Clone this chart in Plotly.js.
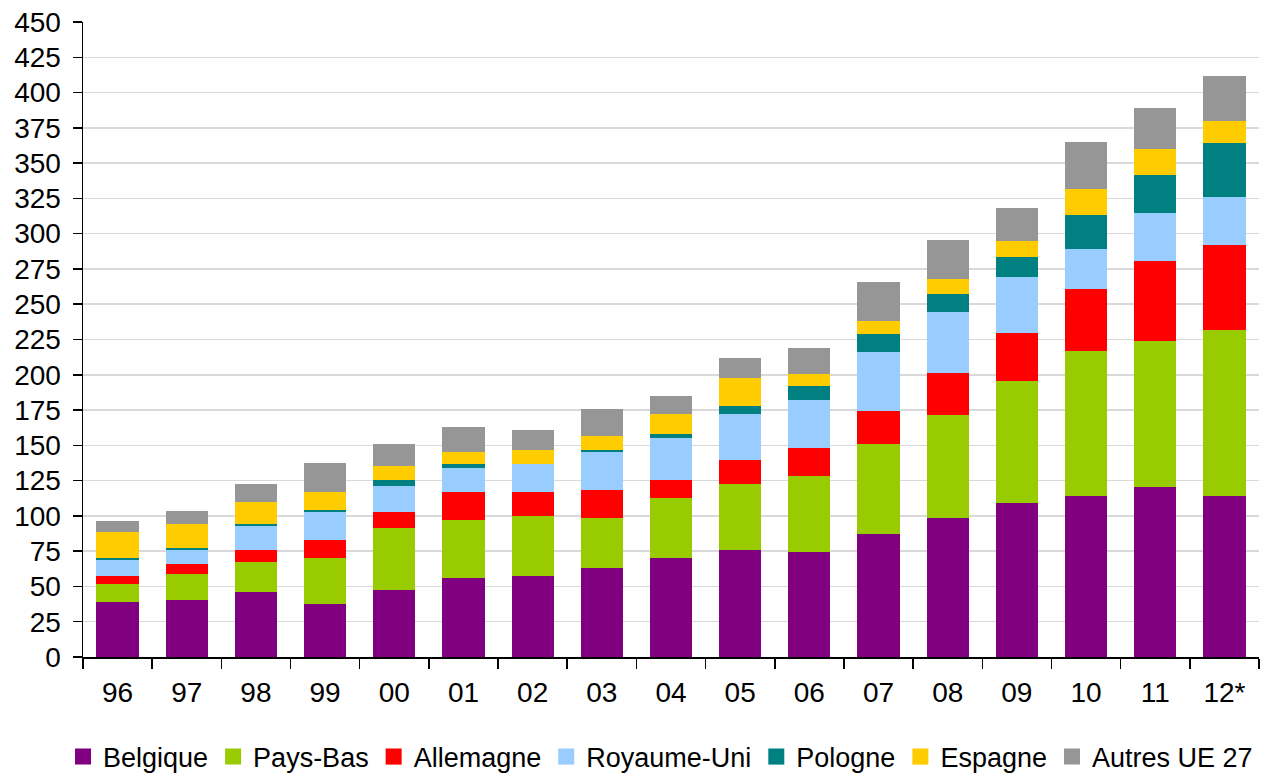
<!DOCTYPE html>
<html>
<head>
<meta charset="utf-8">
<script src="https://cdn.plot.ly/plotly-3.0.1.min.js"></script>
<style>
  html, body { margin: 0; padding: 0; background: #ffffff; }
  #chart { width: 1265px; height: 776px; }
</style>
</head>
<body>
<div id="chart"></div>
<script>
const years = ['96','97','98','99','00','01','02','03','04','05','06','07','08','09','10','11','12*'];

const belgique   = [39.0, 40.4, 46.0, 37.5, 47.5, 55.9, 57.4, 63.0, 70.1, 75.8, 74.4, 87.0, 98.2, 109.4, 113.8, 120.8, 113.8];
const paysBas    = [12.7, 18.4, 21.3, 32.6, 43.9, 41.1, 42.5, 35.4, 42.5, 46.7, 53.8, 63.6, 73.5, 86.4, 103.3, 103.4, 117.6];
const allemagne  = [5.7, 7.1, 8.5, 12.8, 11.3, 19.9, 17.0, 19.9, 12.8, 17.0, 19.8, 23.9, 29.9, 34.1, 43.9, 56.6, 60.8];
const royaumeUni = [11.3, 9.9, 17.0, 19.8, 18.4, 17.0, 19.8, 26.9, 29.7, 32.6, 34.0, 41.3, 42.6, 39.7, 28.4, 34.0, 34.0];
const pologne    = [1.4, 1.4, 1.4, 1.4, 4.3, 2.8, 0.3, 1.4, 2.8, 5.7, 9.9, 12.8, 12.7, 14.0, 24.1, 27.0, 38.2];
const espagne    = [18.4, 17.0, 15.6, 12.8, 9.9, 8.5, 9.9, 9.9, 14.2, 19.8, 8.5, 9.8, 11.2, 11.5, 18.5, 18.5, 15.6];
const autres     = [7.8, 9.2, 12.7, 20.5, 15.5, 17.7, 14.2, 19.1, 12.7, 14.2, 18.4, 27.6, 27.7, 23.3, 33.2, 29.1, 31.5];

const seriesNames  = ['Belgique', 'Pays-Bas', 'Allemagne', 'Royaume-Uni', 'Pologne', 'Espagne', 'Autres UE 27'];
const seriesValues = [belgique, paysBas, allemagne, royaumeUni, pologne, espagne, autres];
const seriesColors = ['#800080', '#99CC00', '#FF0000', '#99CCFF', '#008080', '#FFCC00', '#969696'];

const FONT = 'Liberation Sans, Arial, Helvetica, sans-serif';

const barTraces = seriesNames.map((name, i) => ({
  type: 'bar',
  name: name,
  x: years,
  y: seriesValues[i],
  marker: { color: seriesColors[i], line: { width: 0 } },
  showlegend: false,
  hoverinfo: 'x+y+name'
}));

// legend proxies (larger square swatches), they draw no point
const legendTraces = seriesNames.map((name, i) => ({
  type: 'scatter',
  mode: 'markers',
  name: name,
  x: [null],
  y: [null],
  marker: { color: seriesColors[i], symbol: 'square', size: 16 },
  showlegend: true,
  hoverinfo: 'skip'
}));

const layout = {
  width: 1265,
  height: 776,
  margin: { l: 83, r: 6, t: 21.5, b: 118.7, pad: 0, autoexpand: false },
  paper_bgcolor: '#ffffff',
  plot_bgcolor: '#ffffff',
  font: { family: FONT, size: 28, color: '#000000' },
  barmode: 'stack',
  bargap: 0.39,
  showlegend: true,
  xaxis: {
    type: 'category',
    tickson: 'boundaries',
    ticks: 'outside',
    ticklen: 10,
    tickwidth: 1.5,
    tickcolor: '#000000',
    ticklabelstandoff: 10,
    showline: true,
    linecolor: '#000000',
    linewidth: 1.5,
    showgrid: false,
    zeroline: false,
    tickfont: { family: FONT, size: 28, color: '#000000' },
    fixedrange: true
  },
  yaxis: {
    range: [0, 450],
    tick0: 0,
    dtick: 25,
    ticks: 'outside',
    ticklen: 9,
    tickwidth: 1.5,
    tickcolor: '#000000',
    ticklabelstandoff: 6,
    showline: true,
    linecolor: '#000000',
    linewidth: 1.5,
    showgrid: true,
    gridcolor: '#d9d9d9',
    gridwidth: 1.5,
    zeroline: false,
    tickfont: { family: FONT, size: 28, color: '#000000' },
    fixedrange: true
  },
  legend: {
    orientation: 'h',
    xref: 'paper',
    yref: 'paper',
    x: -0.017,
    xanchor: 'left',
    y: -0.119,
    yanchor: 'top',
    traceorder: 'normal',
    font: { family: FONT, size: 27, color: '#000000' },
    bgcolor: 'rgba(0,0,0,0)',
    borderwidth: 0
  }
};

Plotly.newPlot('chart', barTraces.concat(legendTraces), layout, { displayModeBar: false, staticPlot: true });
</script>
</body>
</html>
